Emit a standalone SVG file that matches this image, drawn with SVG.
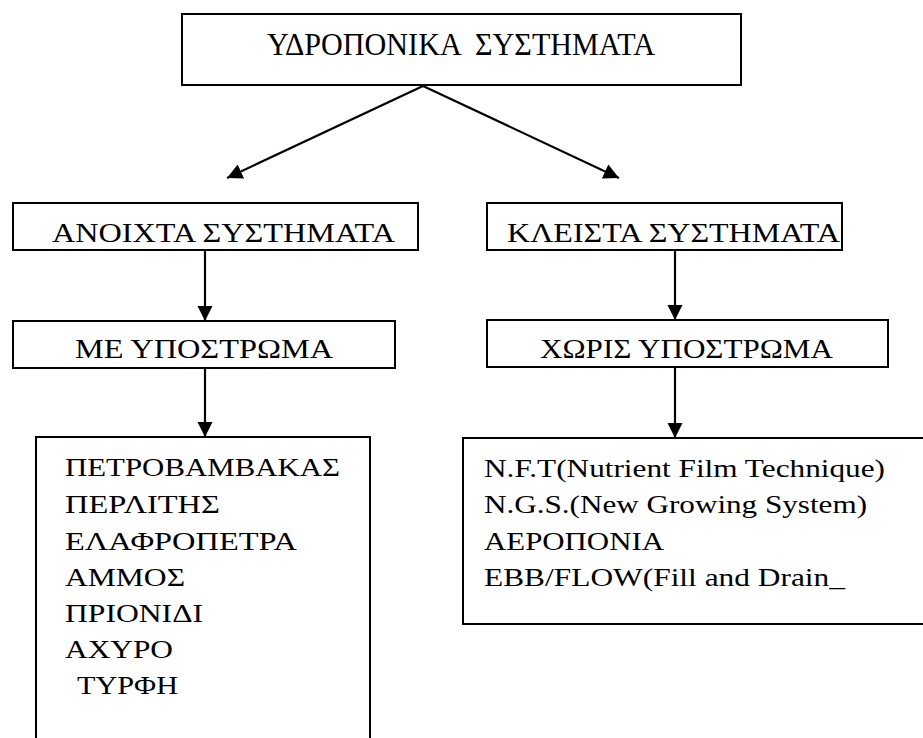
<svg xmlns="http://www.w3.org/2000/svg" width="923" height="738" viewBox="0 0 923 738">
<style>
.box{fill:#fff;stroke:#000;stroke-width:2}
text{font-family:'Liberation Serif','Times New Roman',Tinos,'Noto Serif','DejaVu Serif',FreeSerif,'Nimbus Roman',Times,serif;fill:#000}
.h{font-size:32px}
.m{font-size:28px}
.l{font-size:25px}
.c{stroke:#000;stroke-width:2.2;fill:none;marker-end:url(#ah)}
</style>
<defs>
<marker id="ah" viewBox="0 0 10 10" refX="10" refY="5" markerWidth="7" markerHeight="7" markerUnits="strokeWidth" orient="auto">
<path d="M0,0 L10,5 L0,10 z" fill="#000"/>
</marker>
</defs>
<rect width="923" height="738" fill="#fff"/>
<g id="connectors">
<line class="c" x1="423" y1="86" x2="227" y2="178"/>
<line class="c" x1="423" y1="86" x2="619" y2="178"/>
<line class="c" x1="205" y1="250" x2="205" y2="321"/>
<line class="c" x1="675" y1="250" x2="675" y2="320"/>
<line class="c" x1="205" y1="368" x2="205" y2="437"/>
<line class="c" x1="675" y1="367" x2="675" y2="438"/>
</g>
<g id="root">
<rect class="box" x="182" y="14" width="559" height="71"/>
<text class="h" x="267" y="55" xml:space="preserve" textLength="388" lengthAdjust="spacingAndGlyphs">ΥΔΡΟΠΟΝΙΚΑ  ΣΥΣΤΗΜΑΤΑ</text>
</g>
<g id="open">
<rect class="box" x="13" y="203" width="405" height="47"/>
<text class="m" x="52" y="242" textLength="343" lengthAdjust="spacingAndGlyphs">ΑΝΟΙΧΤΑ ΣΥΣΤΗΜΑΤΑ</text>
</g>
<g id="closed">
<rect class="box" x="487" y="203" width="355" height="47"/>
<text class="m" x="507" y="242" textLength="333" lengthAdjust="spacingAndGlyphs">ΚΛΕΙΣΤΑ ΣΥΣΤΗΜΑΤΑ</text>
</g>
<g id="with-substrate">
<rect class="box" x="13" y="321" width="382" height="47"/>
<text class="m" x="75" y="358" textLength="258" lengthAdjust="spacingAndGlyphs">ΜΕ ΥΠΟΣΤΡΩΜΑ</text>
</g>
<g id="without-substrate">
<rect class="box" x="487" y="320" width="401" height="47"/>
<text class="m" x="540" y="358" textLength="293" lengthAdjust="spacingAndGlyphs">ΧΩΡΙΣ ΥΠΟΣΤΡΩΜΑ</text>
</g>
<g id="substrates">
<rect class="box" x="36" y="437" width="334" height="310"/>
<text class="l" x="65" y="476" textLength="275" lengthAdjust="spacingAndGlyphs">ΠΕΤΡΟΒΑΜΒΑΚΑΣ</text>
<text class="l" x="65" y="513" textLength="155" lengthAdjust="spacingAndGlyphs">ΠΕΡΛΙΤΗΣ</text>
<text class="l" x="65" y="550" textLength="232" lengthAdjust="spacingAndGlyphs">ΕΛΑΦΡΟΠΕΤΡΑ</text>
<text class="l" x="65" y="586" textLength="120" lengthAdjust="spacingAndGlyphs">ΑΜΜΟΣ</text>
<text class="l" x="65" y="622" textLength="138" lengthAdjust="spacingAndGlyphs">ΠΡΙΟΝΙΔΙ</text>
<text class="l" x="65" y="658" textLength="108" lengthAdjust="spacingAndGlyphs">ΑΧΥΡΟ</text>
<text class="l" x="77" y="694" textLength="101" lengthAdjust="spacingAndGlyphs">ΤΥΡΦΗ</text>
</g>
<g id="no-substrate-systems">
<rect class="box" x="463" y="438" width="470" height="186"/>
<text class="l" x="484" y="477" textLength="401" lengthAdjust="spacingAndGlyphs">N.F.T(Nutrient Film Technique)</text>
<text class="l" x="484" y="513" textLength="383" lengthAdjust="spacingAndGlyphs">N.G.S.(New Growing System)</text>
<text class="l" x="484" y="550" textLength="180" lengthAdjust="spacingAndGlyphs">ΑΕΡΟΠΟΝΙΑ</text>
<text class="l" x="484" y="586" textLength="361" lengthAdjust="spacingAndGlyphs">EBB/FLOW(Fill and Drain_</text>
</g>
</svg>
